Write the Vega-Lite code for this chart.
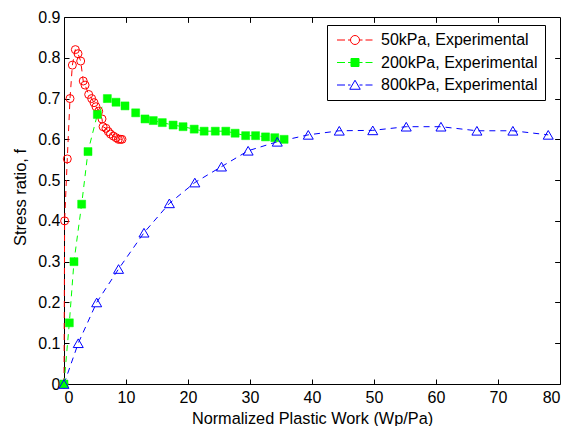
{
  "$schema": "https://vega.github.io/schema/vega-lite/v6.json",
  "width": 496,
  "height": 367,
  "autosize": "none",
  "padding": {"left": 64, "top": 17, "right": 16, "bottom": 42},
  "config": {
    "font": "Liberation Sans",
    "view": {"stroke": "black", "strokeWidth": 1},
    "axis": {
      "grid": false,
      "domain": false,
      "ticks": true,
      "tickColor": "black",
      "tickWidth": 1,
      "labelColor": "black",
      "titleColor": "black",
      "labelFontSize": 16,
      "titleFontSize": 16.3,
      "titleFontWeight": "normal",
      "tickSize": 5,
      "offset": -5
    }
  },
  "data": {
    "values": [
      {"s": "50kPa, Experimental", "i": 0, "x": 0, "f": 0},
      {"s": "50kPa, Experimental", "i": 1, "x": 0.1, "f": 0.4},
      {"s": "50kPa, Experimental", "i": 2, "x": 0.53, "f": 0.552},
      {"s": "50kPa, Experimental", "i": 3, "x": 0.97, "f": 0.7},
      {"s": "50kPa, Experimental", "i": 4, "x": 1.35, "f": 0.782},
      {"s": "50kPa, Experimental", "i": 5, "x": 1.83, "f": 0.82},
      {"s": "50kPa, Experimental", "i": 6, "x": 2.26, "f": 0.81},
      {"s": "50kPa, Experimental", "i": 7, "x": 2.69, "f": 0.792},
      {"s": "50kPa, Experimental", "i": 8, "x": 3.1, "f": 0.743},
      {"s": "50kPa, Experimental", "i": 9, "x": 3.4, "f": 0.733},
      {"s": "50kPa, Experimental", "i": 10, "x": 3.98, "f": 0.71},
      {"s": "50kPa, Experimental", "i": 11, "x": 4.46, "f": 0.7},
      {"s": "50kPa, Experimental", "i": 12, "x": 4.84, "f": 0.69},
      {"s": "50kPa, Experimental", "i": 13, "x": 5.16, "f": 0.68},
      {"s": "50kPa, Experimental", "i": 14, "x": 5.6, "f": 0.669},
      {"s": "50kPa, Experimental", "i": 15, "x": 6.13, "f": 0.65},
      {"s": "50kPa, Experimental", "i": 16, "x": 6.3, "f": 0.631},
      {"s": "50kPa, Experimental", "i": 17, "x": 6.77, "f": 0.627},
      {"s": "50kPa, Experimental", "i": 18, "x": 7.15, "f": 0.619},
      {"s": "50kPa, Experimental", "i": 19, "x": 7.5, "f": 0.613},
      {"s": "50kPa, Experimental", "i": 20, "x": 7.96, "f": 0.608},
      {"s": "50kPa, Experimental", "i": 21, "x": 8.4, "f": 0.604},
      {"s": "50kPa, Experimental", "i": 22, "x": 8.77, "f": 0.6},
      {"s": "50kPa, Experimental", "i": 23, "x": 9.1, "f": 0.6},
      {"s": "50kPa, Experimental", "i": 24, "x": 9.35, "f": 0.6},
      {"s": "200kPa, Experimental", "i": 0, "x": 0, "f": 0},
      {"s": "200kPa, Experimental", "i": 1, "x": 0.86, "f": 0.15},
      {"s": "200kPa, Experimental", "i": 2, "x": 1.61, "f": 0.3},
      {"s": "200kPa, Experimental", "i": 3, "x": 2.85, "f": 0.441},
      {"s": "200kPa, Experimental", "i": 4, "x": 3.87, "f": 0.57},
      {"s": "200kPa, Experimental", "i": 5, "x": 5.38, "f": 0.661},
      {"s": "200kPa, Experimental", "i": 6, "x": 6.99, "f": 0.7},
      {"s": "200kPa, Experimental", "i": 7, "x": 8.39, "f": 0.691},
      {"s": "200kPa, Experimental", "i": 8, "x": 9.84, "f": 0.682},
      {"s": "200kPa, Experimental", "i": 9, "x": 11.56, "f": 0.665},
      {"s": "200kPa, Experimental", "i": 10, "x": 13.06, "f": 0.65},
      {"s": "200kPa, Experimental", "i": 11, "x": 14.4, "f": 0.646},
      {"s": "200kPa, Experimental", "i": 12, "x": 15.85, "f": 0.641},
      {"s": "200kPa, Experimental", "i": 13, "x": 17.6, "f": 0.635},
      {"s": "200kPa, Experimental", "i": 14, "x": 19.2, "f": 0.631},
      {"s": "200kPa, Experimental", "i": 15, "x": 21.0, "f": 0.625},
      {"s": "200kPa, Experimental", "i": 16, "x": 22.6, "f": 0.62},
      {"s": "200kPa, Experimental", "i": 17, "x": 24.4, "f": 0.62},
      {"s": "200kPa, Experimental", "i": 18, "x": 26.1, "f": 0.62},
      {"s": "200kPa, Experimental", "i": 19, "x": 27.6, "f": 0.615},
      {"s": "200kPa, Experimental", "i": 20, "x": 29.3, "f": 0.609},
      {"s": "200kPa, Experimental", "i": 21, "x": 30.9, "f": 0.609},
      {"s": "200kPa, Experimental", "i": 22, "x": 32.5, "f": 0.606},
      {"s": "200kPa, Experimental", "i": 23, "x": 34.0, "f": 0.604},
      {"s": "200kPa, Experimental", "i": 24, "x": 35.5, "f": 0.6},
      {"s": "800kPa, Experimental", "i": 0, "x": 0, "f": 0},
      {"s": "800kPa, Experimental", "i": 1, "x": 2.3, "f": 0.1},
      {"s": "800kPa, Experimental", "i": 2, "x": 5.27, "f": 0.2},
      {"s": "800kPa, Experimental", "i": 3, "x": 8.8, "f": 0.282},
      {"s": "800kPa, Experimental", "i": 4, "x": 12.9, "f": 0.371},
      {"s": "800kPa, Experimental", "i": 5, "x": 17.0, "f": 0.443},
      {"s": "800kPa, Experimental", "i": 6, "x": 21.1, "f": 0.494},
      {"s": "800kPa, Experimental", "i": 7, "x": 25.4, "f": 0.533},
      {"s": "800kPa, Experimental", "i": 8, "x": 29.7, "f": 0.572},
      {"s": "800kPa, Experimental", "i": 9, "x": 34.4, "f": 0.594},
      {"s": "800kPa, Experimental", "i": 10, "x": 39.4, "f": 0.611},
      {"s": "800kPa, Experimental", "i": 11, "x": 44.4, "f": 0.621},
      {"s": "800kPa, Experimental", "i": 12, "x": 49.8, "f": 0.622},
      {"s": "800kPa, Experimental", "i": 13, "x": 55.2, "f": 0.631},
      {"s": "800kPa, Experimental", "i": 14, "x": 60.8, "f": 0.631},
      {"s": "800kPa, Experimental", "i": 15, "x": 66.6, "f": 0.621},
      {"s": "800kPa, Experimental", "i": 16, "x": 72.4, "f": 0.621},
      {"s": "800kPa, Experimental", "i": 17, "x": 78.1, "f": 0.611}
    ]
  },
  "layer": [
    {
      "mark": {"type": "line", "strokeDash": [6, 5], "strokeWidth": 1},
      "encoding": {
        "x": {
          "field": "x", "type": "quantitative",
          "scale": {"domain": [0, 80], "nice": false},
          "axis": {"orient": "bottom", "values": [0, 10, 20, 30, 40, 50, 60, 70, 80], "title": "Normalized Plastic Work (Wp/Pa)", "labelPadding": 5, "titlePadding": 5}
        },
        "y": {
          "field": "f", "type": "quantitative",
          "scale": {"domain": [0, 0.9], "nice": false},
          "axis": {"orient": "left", "values": [0, 0.1, 0.2, 0.3, 0.4, 0.5, 0.6, 0.7, 0.8, 0.9], "format": ".1~f", "title": "Stress ratio, f", "titleFontSize": 16.5, "titleY": 180, "labelPadding": 4, "titlePadding": 9}
        },
        "order": {"field": "i"},
        "stroke": {
          "field": "s", "type": "nominal",
          "scale": {"domain": ["50kPa, Experimental", "200kPa, Experimental", "800kPa, Experimental"], "range": ["#ff0000", "#00ff00", "#0000ff"]},
          "legend": {
            "title": null,
            "orient": "none",
            "legendX": 263,
            "legendY": 8,
            "strokeColor": "black",
            "fillColor": "white",
            "padding": 7,
            "labelFontSize": 16,
            "labelFont": "Liberation Sans",
            "labelColor": "black",
            "labelExpr": "datum.label + '\u00a0\u00a0'",
            "symbolSize": 100,
            "symbolOffset": 13,
            "labelOffset": 18,
            "rowPadding": 6.5,
            "encode": {
              "symbols": {
                "update": {
                  "opacity": {"value": 1},
                  "strokeWidth": {"value": 1},
                  "strokeDash": {"value": [100, 0]}
                }
              }
            }
          }
        }
      }
    },
    {
      "mark": {"type": "point", "opacity": 0, "strokeWidth": 1},
      "encoding": {
        "x": {"field": "x", "type": "quantitative", "axis": null},
        "y": {"field": "f", "type": "quantitative", "axis": null},
        "stroke": {"field": "s", "type": "nominal", "legend": null},
        "fill": {
          "field": "s", "type": "nominal",
          "scale": {"domain": ["50kPa, Experimental", "200kPa, Experimental", "800kPa, Experimental"], "range": ["transparent", "#00ff00", "transparent"]},
          "legend": null
        },
        "shape": {
          "field": "s", "type": "nominal",
          "scale": {
            "domain": ["50kPa, Experimental", "200kPa, Experimental", "800kPa, Experimental"],
            "range": [
              "M-3.6,0H-2.0M-1.4,0H-0.9M0.9,0H1.5M2.1,0H3.5M-0.9,0A0.9,0.9,0,1,1,0.9,0A0.9,0.9,0,1,1,-0.9,0",
              "M-3.6,0H-2.0M-1.4,0H-0.8M0.8,0H1.5M2.1,0H3.5M-0.8,-0.8H0.8V0.8H-0.8Z",
              "M-3.6,0H-2.0M-1.4,0H-0.9M0.9,0H1.5M2.1,0H3.5M0,-0.95L1.05,0.85H-1.05Z"
            ]
          },
          "legend": null
        }
      }
    },
    {
      "transform": [{"filter": "datum.s === '50kPa, Experimental'"}],
      "mark": {"type": "point", "shape": "circle", "size": 64, "filled": false, "stroke": "#ff0000", "fill": "transparent", "opacity": 1, "strokeWidth": 1},
      "encoding": {
        "x": {
          "field": "x", "type": "quantitative",
          "axis": {"orient": "top", "labels": false, "title": null, "values": [10, 20, 30, 40, 50, 60, 70]}
        },
        "y": {
          "field": "f", "type": "quantitative",
          "axis": {"orient": "right", "labels": false, "title": null, "values": [0.1, 0.2, 0.3, 0.4, 0.5, 0.6, 0.7, 0.8]}
        }
      }
    },
    {
      "transform": [{"filter": "datum.s === '200kPa, Experimental'"}],
      "mark": {"type": "point", "shape": "square", "size": 64, "filled": true, "fill": "#00ff00", "stroke": "#00ff00", "opacity": 1, "strokeWidth": 0.5},
      "encoding": {
        "x": {"field": "x", "type": "quantitative", "axis": {"orient": "top", "labels": false, "title": null, "values": [10, 20, 30, 40, 50, 60, 70]}},
        "y": {"field": "f", "type": "quantitative", "axis": {"orient": "right", "labels": false, "title": null, "values": [0.1, 0.2, 0.3, 0.4, 0.5, 0.6, 0.7, 0.8]}}
      }
    },
    {
      "transform": [{"filter": "datum.s === '800kPa, Experimental'"}],
      "mark": {"type": "point", "shape": "triangle-up", "size": 100, "filled": false, "stroke": "#0000ff", "fill": "transparent", "opacity": 1, "strokeWidth": 1},
      "encoding": {
        "x": {"field": "x", "type": "quantitative", "axis": {"orient": "top", "labels": false, "title": null, "values": [10, 20, 30, 40, 50, 60, 70]}},
        "y": {"field": "f", "type": "quantitative", "axis": {"orient": "right", "labels": false, "title": null, "values": [0.1, 0.2, 0.3, 0.4, 0.5, 0.6, 0.7, 0.8]}}
      }
    }
  ]
}
